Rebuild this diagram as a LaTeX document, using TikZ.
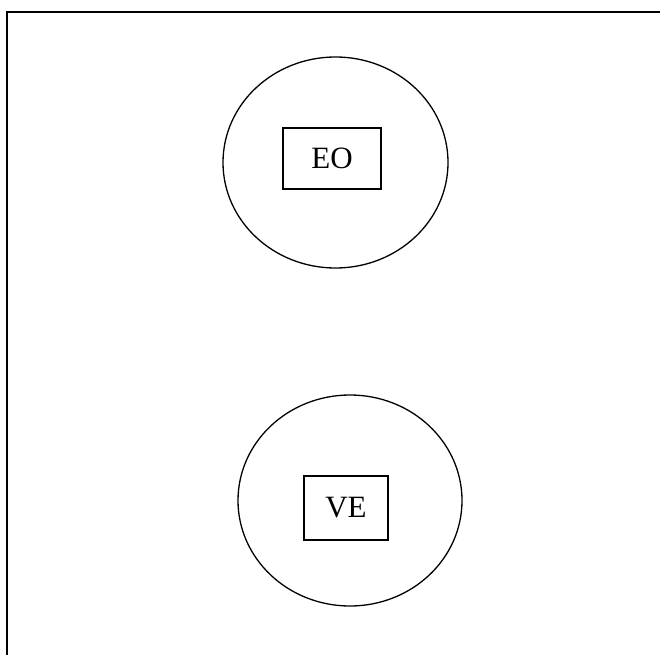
\documentclass[tikz,border=0pt]{standalone}
\usepackage{fontspec}
\setmainfont{Liberation Serif}
\usetikzlibrary{shapes.geometric}

\tikzset{
  ring/.style = {draw, ellipse, line width=1.3pt, inner sep=0pt},
  label box/.style = {draw, rectangle, line width=1.3pt, inner sep=0pt,
                      font=\fontsize{31}{36}\selectfont}
}

\begin{document}
\begin{tikzpicture}[x=1pt, y=-1pt]
        \useasboundingbox (0,0) rectangle (660,655);

        \draw [line width=2pt] (7,655) -- (7,12) -- (660,12);

        \node (upper) at (335.5, 162.5) [ring, minimum width=225pt, minimum height=211pt] {};
        \node (lower) at (350, 500.5) [ring, minimum width=224pt, minimum height=211pt] {};

        \node (eo) at (332, 158.5) [label box, minimum width=98pt, minimum height=61pt] {EO\hspace{15pt}};
        \node (ve) at (346, 508) [label box, minimum width=84pt, minimum height=64pt] {VE};
    \end{tikzpicture}
\end{document}
